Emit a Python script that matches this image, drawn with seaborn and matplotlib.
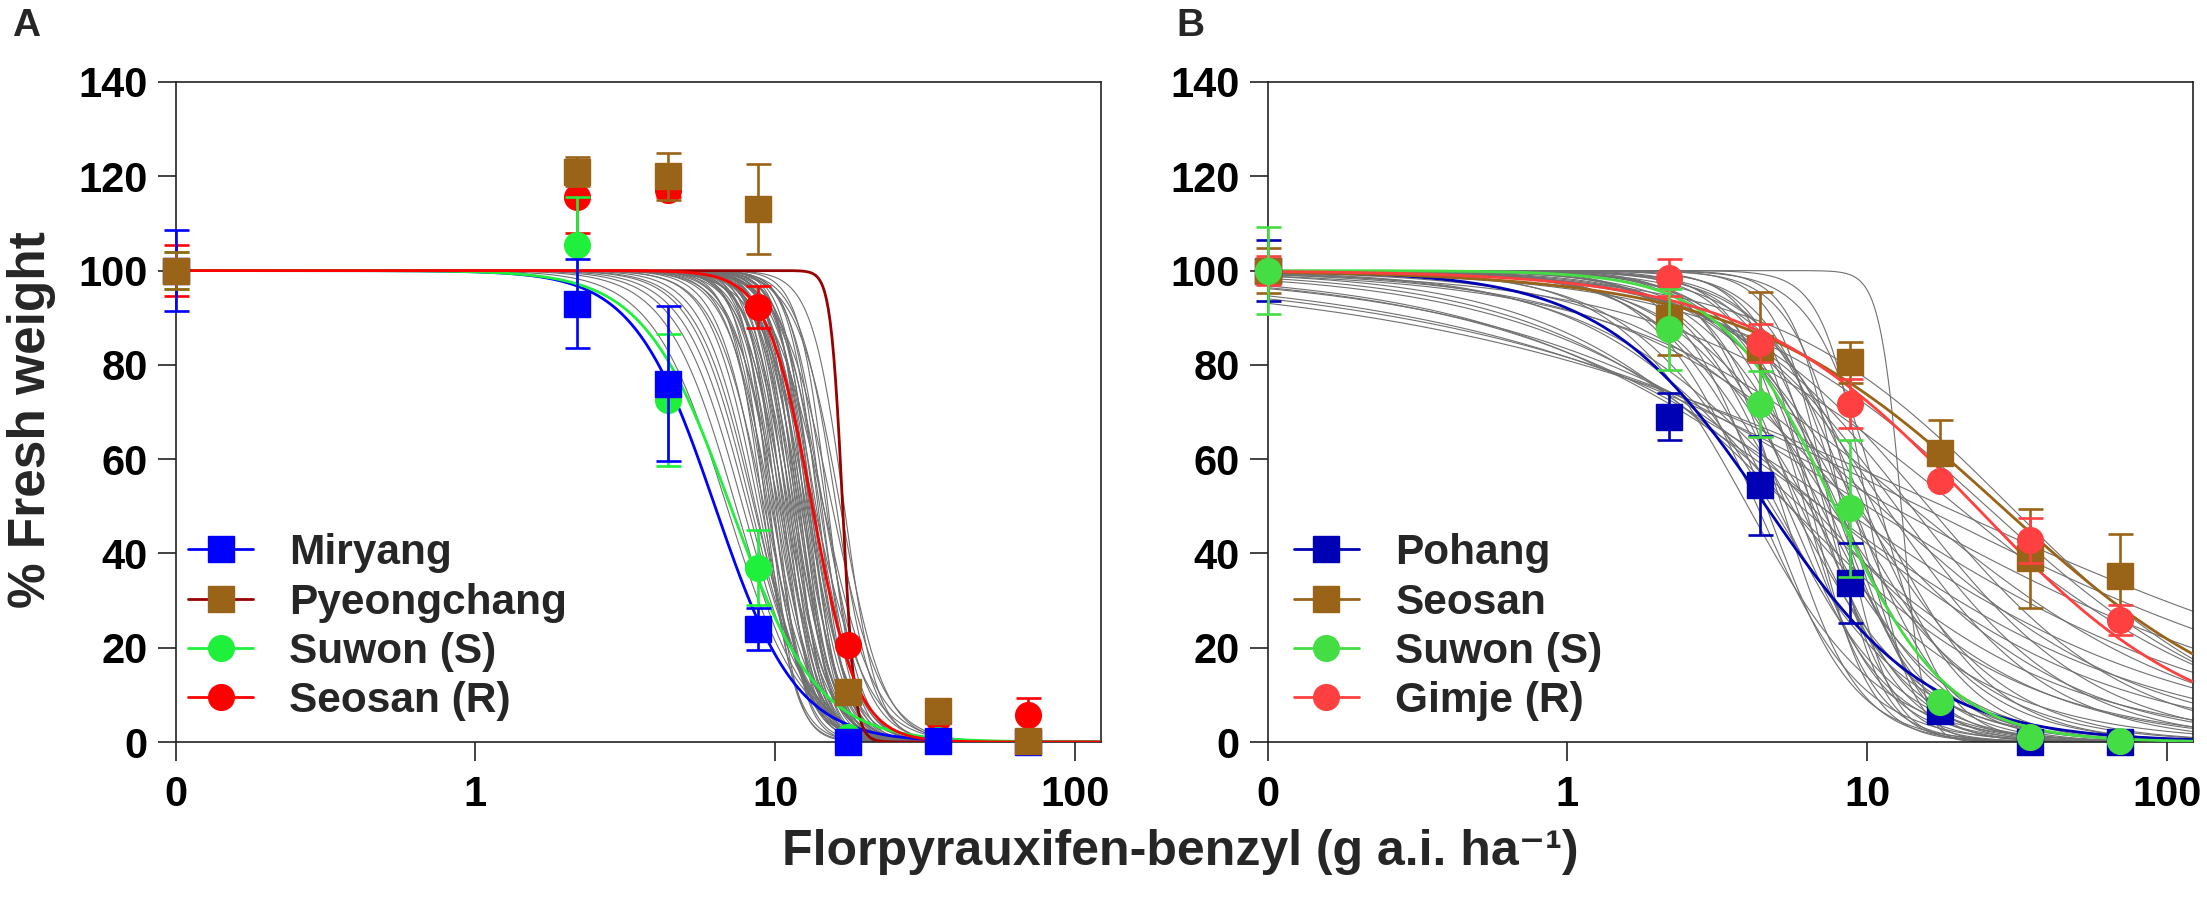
import numpy as np
import pandas as pd
import matplotlib
matplotlib.use("Agg")
import matplotlib.pyplot as plt
import seaborn as sns
from matplotlib.lines import Line2D
from matplotlib.font_manager import FontProperties

# ---------------- data ----------------
doses = [0, 2.1875, 4.375, 8.75, 17.5, 35, 70]       # g a.i. ha-1 (0 drawn at 0.1)
xtick_vals = [0.1, 1, 10, 100]
xtick_labels = ["0", "1", "10", "100"]
ytick_vals = [0, 20, 40, 60, 80, 100, 120, 140]

# Panel A
a_names = ["Miryang", "Pyeongchang", "Suwon (S)", "Seosan (R)"]
a_miryang_y = [100, 93, 76, 24, 0, 0.3, 0]
a_miryang_err = [8.5, 9.5, 16.5, 4.5, 0, 0, 0]
a_pyeong_y = [100, 121, 120, 113, 10.7, 6.6, 0.3]
a_pyeong_err = [4, 3, 5, 9.5, 0, 1.5, 0]
a_suwon_y = [100, 105.5, 72.5, 37, 1, 0.5, 0]
a_suwon_err = [4, 10, 14, 8, 0, 0, 0]
a_seosan_y = [100, 115.5, 117, 92.3, 20.6, 5, 5.8]
a_seosan_err = [5.5, 7.5, 1.5, 4.4, 0, 0, 3.6]
# fitted log-logistic curves: (ED50, slope)
a_miryang_fit = (6.3, 3.2)
a_pyeong_fit = (16.8, 22.0)
a_suwon_fit = (7.1, 3.0)
a_seosan_fit = (13.3, 5.8)
a_gray_ed50 = [6.9, 7.4, 7.8, 8.1, 8.3, 8.5, 8.6, 8.8, 9.0, 9.1, 9.2, 9.3, 9.4, 9.5, 9.6,
               9.7, 9.8, 9.9, 10.0, 10.1, 10.2, 10.3, 10.4, 10.5, 10.6, 10.7, 10.8, 10.9,
               11.0, 11.1, 11.2, 11.3, 11.4, 11.5, 11.6, 11.7, 11.8, 11.9, 12.0, 12.1,
               12.2, 12.3, 12.4, 12.5, 12.6, 12.7, 12.8, 12.9, 13.0, 13.1, 13.2, 13.3,
               13.5, 13.7, 13.9, 14.1, 14.3, 14.5, 14.8, 15.0, 13.5, 14.5, 15.5, 16.5,
               16.0, 17.0]
a_gray_slope = [3.5, 3.8, 4.0, 4.2, 4.5, 4.6, 5.0, 5.5, 6.0, 8.0, 5.2, 9.0, 6.5, 7.0, 10.0,
                5.8, 7.5, 8.5, 6.2, 9.5, 7.0, 5.5, 8.0, 6.8, 9.0, 7.2, 6.0, 8.8, 7.5, 6.5,
                9.2, 7.8, 6.2, 8.5, 7.0, 10.0, 6.8, 8.0, 7.4, 9.0, 6.5, 8.2, 7.0, 10.5,
                7.8, 6.0, 9.0, 7.2, 8.5, 6.8, 9.5, 7.5, 8.0, 6.5, 9.0, 7.0, 8.5, 6.0, 7.5,
                9.0, 4.8, 5.0, 5.2, 6.0, 7.0, 8.0]

# Panel B
b_names = ["Pohang", "Seosan", "Suwon (S)", "Gimje (R)"]
b_pohang_y = [100, 69, 54.5, 33.8, 6.6, 0, 0]
b_pohang_err = [6.4, 5, 10.5, 8.5, 0, 0, 0]
b_seosan_y = [100, 90, 83.5, 80.5, 61.3, 39, 35.2]
b_seosan_err = [4.7, 8, 12, 4.4, 7, 10.5, 9]
b_suwon_y = [100, 87.5, 71.8, 49.6, 8.5, 1, 0.2]
b_suwon_err = [9.3, 8.6, 7, 14.5, 0, 0, 0]
b_gimje_y = [100, 98.5, 84.6, 71.8, 55.3, 42.8, 25.8]
b_gimje_err = [3, 4, 4, 5.2, 0, 4.8, 3.2]
b_pohang_fit = (4.6, 1.6)
b_seosan_fit = (28.0, 1.0)
b_suwon_fit = (7.8, 2.3)
b_gimje_fit = (23.0, 1.15)
b_gray_ed50 = [18, 15, 12, 10, 8, 7, 20, 25, 30, 14, 11, 7, 6, 5.5, 9, 6.5, 5.5,
               4.0, 4.3, 4.6, 4.8, 5.0, 5.2, 5.4, 5.6, 5.8, 6.0, 6.2, 6.4, 6.6, 6.8,
               7.0, 7.2, 7.4, 7.6, 7.8, 8.0, 8.3, 8.6, 9.0, 9.4, 9.8, 10.5, 11.5, 12.5,
               14, 16, 13, 10, 7.5, 6.5, 9, 8.2, 11]
b_gray_slope = [0.5, 0.55, 0.6, 0.7, 0.75, 0.8, 0.9, 1.0, 1.1, 0.9, 1.0, 0.9, 1.0, 1.1,
                1.2, 1.2, 1.3,
                2.0, 2.5, 3.0, 1.8, 2.2, 3.5, 2.6, 2.0, 3.0, 2.4, 3.8, 1.9, 2.8, 3.2,
                2.2, 4.0, 2.6, 1.7, 3.0, 2.4, 3.5, 2.0, 2.8, 1.8, 2.5, 2.2, 1.6, 1.5,
                1.4, 1.3, 12.0, 6.0, 5.0, 4.5, 4.2, 5.5, 4.0]

# colours
a_marker_colors = ["#0000FF", "#9A6418", "#1EF03C", "#FF0000"]
a_line_colors = ["#0000FF", "#990000", "#1EF03C", "#FF0000"]
b_marker_colors = ["#0000B4", "#9A6418", "#44DD44", "#FF4040"]
b_line_colors = ["#0000B4", "#9A6418", "#44DD44", "#FF4040"]
gray = "#707070"

# ---------------- helpers ----------------
XMAX = 122.0
xgrid = np.logspace(-1, np.log10(XMAX), 500)


def curve(ed50, slope, top=100.0):
    return top / (1.0 + (xgrid / ed50) ** slope)


def plot_x(d):
    d = np.asarray(d, dtype=float)
    return np.where(d == 0, 0.1, d)


sns.set_theme(style="ticks")
plt.rcParams["font.family"] = ["Liberation Sans", "DejaVu Sans"]
plt.rcParams["axes.linewidth"] = 1.2

fig = plt.figure(figsize=(22.07, 9.16), dpi=100)
W, H = 2207.0, 916.0
axA = fig.add_axes([175.7 / W, (H - 742) / H, 925 / W, 660 / H])
axB = fig.add_axes([1267.7 / W, (H - 742) / H, 925 / W, 660 / H])

FAM = ["Liberation Sans", "DejaVu Sans"]
tick_font = FontProperties(family=FAM, weight="bold", size=30)
leg_font = FontProperties(family=FAM, weight="bold", size=30.5)


def draw_panel(ax, gray_ed, gray_sl, fits, series_y, series_err, names,
               mcolors, lcolors, markers, draw_order, leg_x):
    # gray curves
    rows = []
    for i, (e, s) in enumerate(zip(gray_ed, gray_sl)):
        rows.append(pd.DataFrame({"dose": xgrid, "resp": curve(e, s), "curve": i}))
    gdf = pd.concat(rows, ignore_index=True)
    sns.lineplot(data=gdf, x="dose", y="resp", units="curve", estimator=None,
                 color=gray, lw=0.8, ax=ax, legend=False, zorder=2)
    # fitted coloured curves
    frows = []
    for name, (e, s) in zip(names, fits):
        frows.append(pd.DataFrame({"dose": xgrid, "resp": curve(e, s), "pop": name}))
    fdf = pd.concat(frows, ignore_index=True)
    sns.lineplot(data=fdf, x="dose", y="resp", hue="pop", hue_order=names,
                 palette=dict(zip(names, lcolors)), lw=2.0, ax=ax, legend=False,
                 estimator=None, zorder=3)
    # points with error bars
    for k in draw_order:
        ax.errorbar(plot_x(doses), series_y[k], yerr=series_err[k], fmt=markers[k],
                    color=mcolors[k], ms=18.5, elinewidth=1.9, capsize=9, capthick=1.9,
                    ecolor=mcolors[k], mec=mcolors[k], mfc=mcolors[k], ls="none",
                    zorder=5 + draw_order.index(k), clip_on=False)
    ax.set_xscale("log")
    ax.set_xlim(0.1, XMAX)
    ax.set_ylim(0, 140)
    ax.set_xticks(xtick_vals)
    ax.set_xticklabels(xtick_labels)
    ax.minorticks_off()
    ax.set_yticks(ytick_vals)
    ax.set_xlabel("")
    ax.set_ylabel("")
    for lab in ax.get_xticklabels() + ax.get_yticklabels():
        lab.set_fontproperties(tick_font)
    ax.tick_params(axis="y", direction="out", length=13, width=1.2, pad=7, colors="#222222",
                   labelcolor="black")
    ax.tick_params(axis="x", direction="out", length=14, width=1.2, pad=10, colors="#222222",
                   labelcolor="black")
    for sp in ax.spines.values():
        sp.set_visible(True)
        sp.set_color("#222222")
    handles = [Line2D([], [], color=lcolors[k], lw=2.0, marker=markers[k], ms=18.5,
                      mfc=mcolors[k], mec=mcolors[k]) for k in range(4)]
    ax.legend(handles, names, loc="center left", bbox_to_anchor=(leg_x, 0.174),
              frameon=False, prop=leg_font, handlelength=1.55, handletextpad=0.85,
              labelspacing=0.22, borderpad=0, borderaxespad=0)


draw_panel(axA, a_gray_ed50, a_gray_slope,
           [a_miryang_fit, a_pyeong_fit, a_suwon_fit, a_seosan_fit],
           [a_miryang_y, a_pyeong_y, a_suwon_y, a_seosan_y],
           [a_miryang_err, a_pyeong_err, a_suwon_err, a_seosan_err],
           a_names, a_marker_colors, a_line_colors, ["s", "s", "o", "o"],
           [3, 2, 0, 1], 0.013)
draw_panel(axB, b_gray_ed50, b_gray_slope,
           [b_pohang_fit, b_seosan_fit, b_suwon_fit, b_gimje_fit],
           [b_pohang_y, b_seosan_y, b_suwon_y, b_gimje_y],
           [b_pohang_err, b_seosan_err, b_suwon_err, b_gimje_err],
           b_names, b_marker_colors, b_line_colors, ["s", "s", "o", "o"],
           [0, 1, 3, 2], 0.028)

fig.text(31.5 / W, 1 - 420 / H, "% Fresh weight", rotation=90, ha="center", va="center",
         fontsize=37, fontweight="bold", family=FAM)
fig.text(1180 / W, 1 - 852 / H, "Florpyrauxifen-benzyl (g a.i. ha\u207b\u00b9)",
         ha="center", va="center", fontsize=36, fontweight="bold", family=FAM)
fig.text(12 / W, 1 - 8 / H, "A", ha="left", va="top", fontsize=28, fontweight="bold",
         family=FAM)
fig.text(1176 / W, 1 - 8 / H, "B", ha="left", va="top", fontsize=28, fontweight="bold",
         family=FAM)

fig.savefig("out.png", dpi=100)
